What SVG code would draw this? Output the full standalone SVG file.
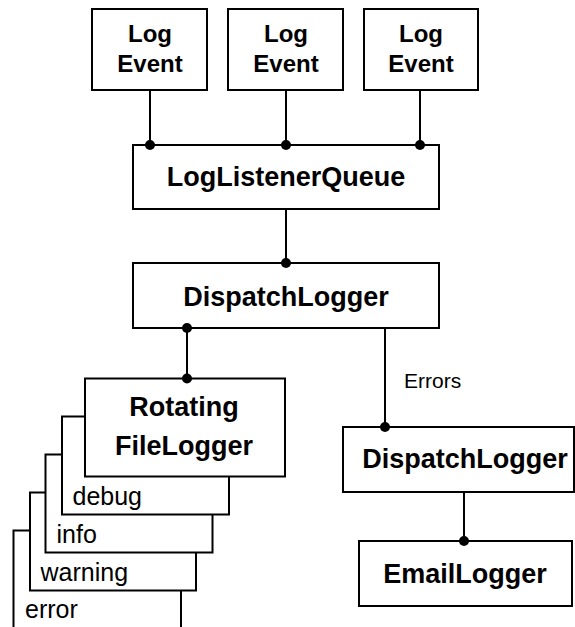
<svg xmlns="http://www.w3.org/2000/svg" width="575" height="627" viewBox="0 0 575 627">
<style>
.box{fill:#fff;stroke:#000;stroke-width:2}
.b{font-family:"Liberation Sans",Arial,sans-serif;font-weight:bold;font-size:27px;text-anchor:middle;fill:#000}
.ev{font-size:24px}
.r{font-family:"Liberation Sans",Arial,sans-serif;font-size:25px;fill:#000}
.sm{font-size:21px}
.ln{stroke:#000;stroke-width:2;fill:none}
.dot{fill:#000}
</style>
<rect width="575" height="627" fill="#fff"/>
<g id="connectors">
<line class="ln" x1="150" y1="90" x2="150" y2="145"/>
<line class="ln" x1="286" y1="90" x2="286" y2="145"/>
<line class="ln" x1="420" y1="90" x2="420" y2="145"/>
<line class="ln" x1="286" y1="209" x2="286" y2="263"/>
<line class="ln" x1="187" y1="328" x2="187" y2="378"/>
<line class="ln" x1="385" y1="328" x2="385" y2="427"/>
<line class="ln" x1="464" y1="492" x2="464" y2="541"/>
<text class="r sm" x="404" y="388">Errors</text>
</g>
<g id="ev1"><rect class="box" x="92" y="9" width="115" height="81"/><text class="b ev" x="150" y="41.5">Log</text><text class="b ev" x="150" y="71.5">Event</text></g>
<g id="ev2"><rect class="box" x="228" y="9" width="115" height="81"/><text class="b ev" x="286" y="41.5">Log</text><text class="b ev" x="286" y="71.5">Event</text></g>
<g id="ev3"><rect class="box" x="364" y="9" width="114" height="81"/><text class="b ev" x="421" y="41.5">Log</text><text class="b ev" x="421" y="71.5">Event</text></g>
<g id="llq"><rect class="box" x="133" y="145" width="306" height="64"/><text class="b" x="286" y="186">LogListenerQueue</text></g>
<g id="dl1"><rect class="box" x="133" y="263" width="306" height="65"/><text class="b" x="286" y="306">DispatchLogger</text></g>
<g id="stack">
<rect class="box" x="13.5" y="530.5" width="167.5" height="98"/><text class="r" x="25" y="618">error</text>
<rect class="box" x="30" y="492.5" width="166" height="98"/><text class="r" x="40.5" y="580.5">warning</text>
<rect class="box" x="45.5" y="454.5" width="167" height="98"/><text class="r" x="56.5" y="542.5">info</text>
<rect class="box" x="62" y="416.5" width="167" height="98"/><text class="r" x="72.5" y="505">debug</text>
</g>
<g id="rfl"><rect class="box" x="85" y="378.5" width="200" height="98"/><text class="b" x="184" y="416">Rotating</text><text class="b" x="184" y="455">FileLogger</text></g>
<g id="dl2"><rect class="box" x="343" y="427" width="231" height="65"/><text class="b" x="465" y="468">DispatchLogger</text></g>
<g id="email"><rect class="box" x="359" y="541" width="213" height="65"/><text class="b" x="465" y="583">EmailLogger</text></g>
<g id="dots">
<circle class="dot" cx="150" cy="145" r="5"/>
<circle class="dot" cx="286" cy="145" r="5"/>
<circle class="dot" cx="420" cy="145" r="5"/>
<circle class="dot" cx="286" cy="263" r="5"/>
<circle class="dot" cx="187" cy="328" r="5"/>
<circle class="dot" cx="187" cy="378.5" r="5"/>
<circle class="dot" cx="385" cy="427" r="5"/>
<circle class="dot" cx="464" cy="541" r="5"/>
</g>
</svg>
